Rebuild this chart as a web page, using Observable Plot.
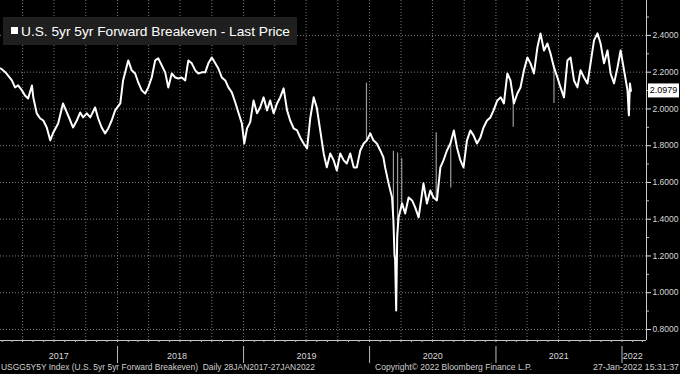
<!DOCTYPE html>
<html><head><meta charset="utf-8">
<script src="https://cdn.jsdelivr.net/npm/d3@7"></script>
<script src="https://cdn.jsdelivr.net/npm/@observablehq/plot@0.6"></script>
<style>
html,body{margin:0;padding:0;background:#000;}
#chart{width:680px;height:374px;overflow:hidden;background:#000;}
#chart svg{display:block;}
</style></head>
<body><div id="chart"></div>
<script>
const titleText = "U.S. 5yr 5yr Forward Breakeven - Last Price";
const footLeft = "USGG5Y5Y Index (U.S. 5yr 5yr Forward Breakeven)  Daily 28JAN2017-27JAN2022";
const footMid = "Copyright\u00A9 2022 Bloomberg Finance L.P.";
const footRight = "27-Jan-2022 15:31:37";
const lastPrice = 2.0979;

const dates = [
"2017-01-28","2017-02-10","2017-03-01","2017-03-10","2017-03-19","2017-03-30","2017-04-08","2017-04-17","2017-04-28","2017-05-02","2017-05-12","2017-05-22","2017-05-31","2017-06-10","2017-06-20","2017-06-29","2017-07-13","2017-07-27","2017-08-07","2017-08-17","2017-08-25","2017-09-05","2017-09-15","2017-09-23","2017-10-04","2017-10-14","2017-10-28","2017-11-06","2017-11-16","2017-11-26","2017-12-05","2017-12-15","2017-12-25",
"2018-01-09","2018-01-17","2018-02-01","2018-02-11","2018-02-21","2018-03-02","2018-03-12","2018-03-22","2018-03-31","2018-04-10","2018-04-20","2018-04-29","2018-05-09","2018-05-19","2018-05-28","2018-06-07","2018-06-17","2018-06-26","2018-07-06","2018-07-16","2018-07-25","2018-08-04","2018-08-14","2018-08-23","2018-09-02","2018-09-12","2018-09-21","2018-10-01","2018-10-11","2018-10-20","2018-10-30","2018-11-09","2018-11-18","2018-11-28","2018-12-08","2018-12-17","2018-12-27",
"2019-01-03","2019-01-11","2019-01-20","2019-01-30","2019-02-09","2019-02-18","2019-02-28","2019-03-10","2019-03-19","2019-03-29","2019-04-08","2019-04-17","2019-04-27","2019-05-07","2019-05-16","2019-05-26","2019-06-05","2019-06-14","2019-06-24","2019-07-04","2019-07-13","2019-07-23","2019-08-01","2019-08-11","2019-08-21","2019-08-30","2019-09-09","2019-09-19","2019-09-28","2019-10-08","2019-10-18","2019-10-27","2019-11-06","2019-11-16","2019-11-25","2019-12-05","2019-12-15","2019-12-24",
"2020-01-03","2020-01-12","2020-01-22","2020-02-01","2020-02-10","2020-02-15","2020-02-25","2020-03-06","2020-03-10","2020-03-13","2020-03-15","2020-03-18","2020-03-21","2020-03-25","2020-04-04","2020-04-13","2020-04-23","2020-05-03","2020-05-12","2020-05-22","2020-06-01","2020-06-05","2020-06-15","2020-06-25","2020-07-04","2020-07-14","2020-07-24","2020-08-02","2020-08-12","2020-08-22","2020-09-01","2020-09-10","2020-09-20","2020-09-29","2020-10-09","2020-10-19","2020-10-28","2020-11-07","2020-11-17","2020-11-26","2020-12-06","2020-12-16","2020-12-25",
"2021-01-05","2021-01-15","2021-01-24","2021-02-03","2021-02-12","2021-02-22","2021-03-04","2021-03-13","2021-03-23","2021-04-02","2021-04-11","2021-04-21","2021-05-01","2021-05-10","2021-05-20","2021-05-30","2021-06-08","2021-06-18","2021-06-28","2021-07-07","2021-07-17","2021-07-27","2021-08-05","2021-08-15","2021-08-25","2021-09-03","2021-09-13","2021-09-23","2021-10-02","2021-10-12","2021-10-22","2021-10-31","2021-11-10","2021-11-20","2021-11-29","2021-12-09","2021-12-19","2021-12-28",
"2022-01-07","2022-01-17","2022-01-21","2022-01-24","2022-01-27"];

const values = [
2.22,2.20,2.155,2.117,2.128,2.101,2.073,2.057,2.128,2.063,1.976,1.948,1.937,1.899,1.829,1.872,1.921,2.030,1.981,1.937,1.899,1.937,1.981,1.954,1.976,1.954,2.008,1.948,1.899,1.867,1.894,1.937,1.992,
2.030,2.155,2.264,2.210,2.193,2.144,2.101,2.084,2.117,2.171,2.264,2.275,2.237,2.199,2.117,2.193,2.171,2.166,2.171,2.155,2.264,2.248,2.210,2.193,2.199,2.199,2.248,2.280,2.248,2.220,2.171,2.155,2.117,2.090,2.035,1.981,1.921,
1.812,1.894,1.927,2.046,1.976,2.008,2.063,1.992,2.046,1.976,2.030,2.063,2.112,1.992,1.937,1.894,1.883,1.845,1.812,1.785,1.948,2.063,2.008,1.883,1.758,1.682,1.758,1.720,1.665,1.758,1.720,1.703,1.758,1.682,1.682,1.774,1.812,1.829,
1.867,1.829,1.812,1.774,1.736,1.682,1.595,1.518,1.393,1.214,1.176,0.903,1.31,1.410,1.486,1.431,1.518,1.502,1.464,1.410,1.540,1.595,1.486,1.556,1.518,1.502,1.682,1.720,1.774,1.812,1.883,1.790,1.720,1.682,1.829,1.883,1.856,1.812,1.845,1.899,1.937,1.954,1.992,
2.046,2.063,2.030,2.193,2.155,2.030,2.084,2.117,2.210,2.280,2.248,2.193,2.335,2.411,2.318,2.356,2.302,2.226,2.171,2.117,2.063,2.264,2.280,2.155,2.117,2.210,2.171,2.139,2.248,2.373,2.411,2.356,2.248,2.318,2.193,2.139,2.226,2.318,
2.210,2.101,1.965,2.139,2.0979];

// isolated off-trend daily prints (grey spikes)
const spikeDates = ["2019-12-23","2020-03-10","2020-03-22","2020-04-03","2020-07-12","2020-08-23","2021-02-20","2021-06-18"];
const spikeFrom  = [1.83,1.39,1.30,1.47,1.50,1.81,2.05,2.23];
const spikeTo    = [2.14,1.77,1.76,1.73,1.87,1.57,1.90,2.03];

const yTickValues = [0.8,1.0,1.2,1.4,1.6,1.8,2.0,2.2,2.4];
const yMinorTicks = [0.9,1.1,1.3,1.5,1.7,1.9,2.1,2.3,2.5];
const yearLabelDates = ["2017-07-15","2018-06-22","2019-07-02","2020-07-02","2021-07-02","2022-02-01"];
const yearStarts = ["2018-01-01","2019-01-01","2020-01-01","2021-01-01","2022-01-01"];

const xStart = new Date("2017-01-27"), xEnd = new Date("2022-03-13");
const yDomain = [0.74, 2.59];

const series = dates.map((d, i) => ({date: new Date(d), value: values[i]}));
const spikes = spikeDates.map((d, i) => ({date: new Date(d), from: spikeFrom[i], to: spikeTo[i]}));
const quarters = d3.utcMonth.every(3).range(xStart, xEnd);
const months = d3.utcMonth.range(xStart, xEnd);

const font = "'Liberation Sans', Arial, sans-serif";
const chart = Plot.plot({
  width: 680, height: 374,
  marginLeft: 0, marginRight: 34, marginTop: 0, marginBottom: 34,
  style: {background: "#000", color: "#d8d8d8", fontFamily: font, fontSize: "8px"},
  x: {type: "utc", domain: [xStart, xEnd], axis: null, label: null},
  y: {domain: yDomain, axis: null, label: null},
  marks: [
    Plot.gridY(yTickValues, {stroke: "#7a7a7a", strokeOpacity: 1, strokeDasharray: "1,2"}),
    Plot.gridX(quarters, {stroke: "#7a7a7a", strokeOpacity: 1, strokeDasharray: "1,2"}),
    Plot.ruleX(spikes, {x: "date", y1: "from", y2: "to", stroke: "#9a9a9a", strokeWidth: 1.2}),
    Plot.lineY(series, {x: "date", y: "value", stroke: "#ffffff", strokeWidth: 2, strokeLinejoin: "round"}),
    Plot.ruleX([xEnd], {stroke: "#c8c8c8", strokeWidth: 1}),
    Plot.ruleY([yDomain[0]], {stroke: "#c8c8c8", strokeWidth: 1}),
    Plot.axisY(yTickValues, {anchor: "right", tickSize: 4, tickPadding: 2, tickFormat: d3.format(".4f"), stroke: "#e0e0e0", fontSize: 8.5, label: null}),
    Plot.axisY(yMinorTicks, {anchor: "right", tickSize: 2, tickFormat: () => "", stroke: "#bbb", label: null}),
    Plot.axisX(months, {anchor: "bottom", tickSize: 2, tickFormat: () => "", stroke: "#bbb", label: null}),
    Plot.axisX(yearStarts.map(d => new Date(d)), {anchor: "bottom", tickSize: 23, tickFormat: () => "", stroke: "#bbb", strokeDasharray: "0,6,17,40", label: null}),
    Plot.axisX(yearLabelDates.map(d => new Date(d)), {anchor: "bottom", tickSize: 0, tickPadding: 12, tickFormat: "%Y", fontSize: 9, label: null})
  ]
});
document.getElementById("chart").appendChild(chart);

const svg = d3.select(chart);
const ann = svg.append("g").attr("font-family", font).attr("text-anchor", "start");
// title box
ann.append("rect").attr("x", 3).attr("y", 17).attr("width", 294).attr("height", 28).attr("fill", "#1f1f1f");
ann.append("rect").attr("x", 11).attr("y", 27).attr("width", 7).attr("height", 7).attr("fill", "#fff");
ann.append("text").attr("x", 21).attr("y", 35.5).attr("text-anchor", "start").attr("fill", "#fff").attr("font-size", 13)
  .attr("textLength", 269).attr("lengthAdjust", "spacingAndGlyphs").text(titleText);
// footers
ann.append("text").attr("x", 1).attr("y", 370).attr("text-anchor", "start").attr("fill", "#d0d0d0").attr("font-size", 8.5)
  .attr("textLength", 314).attr("lengthAdjust", "spacingAndGlyphs").text(footLeft);
ann.append("text").attr("x", 375).attr("y", 370).attr("text-anchor", "start").attr("fill", "#d0d0d0").attr("font-size", 8.5)
  .attr("textLength", 157).attr("lengthAdjust", "spacingAndGlyphs").text(footMid);
ann.append("text").attr("x", 593).attr("y", 370).attr("text-anchor", "start").attr("fill", "#d0d0d0").attr("font-size", 8.5)
  .attr("textLength", 86).attr("lengthAdjust", "spacingAndGlyphs").text(footRight);
// last price box
const yLast = chart.scale("y").apply(lastPrice);
ann.append("rect").attr("x", 648).attr("y", yLast - 7).attr("width", 31).attr("height", 14).attr("fill", "#fff");
ann.append("text").attr("x", 663.5).attr("y", yLast + 3).attr("text-anchor", "middle").attr("fill", "#000").attr("font-size", 9)
  .text(d3.format(".4f")(lastPrice));
</script>
</body></html>
